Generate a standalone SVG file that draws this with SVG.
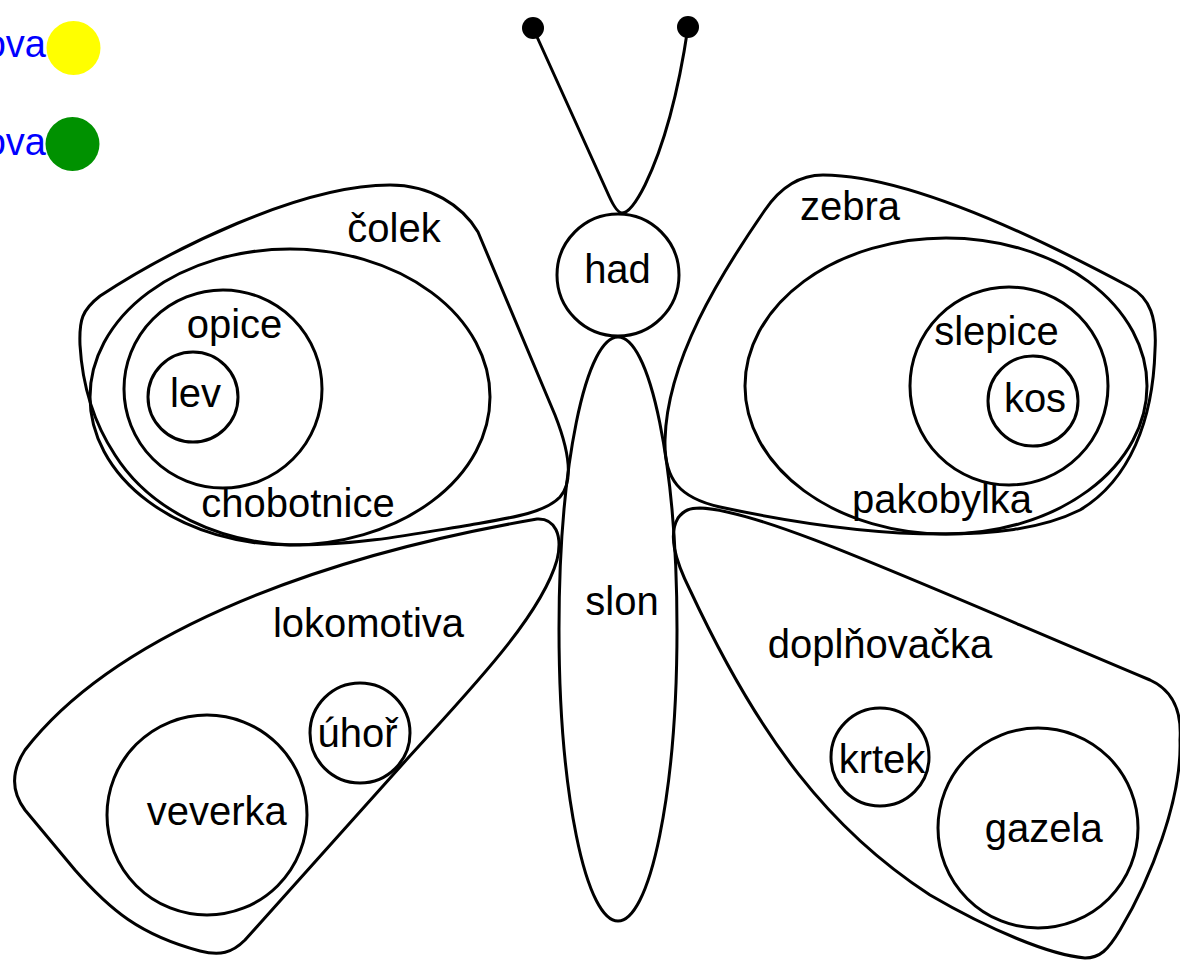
<svg xmlns="http://www.w3.org/2000/svg" width="1180" height="961" viewBox="0 0 1180 961">
<style>
.s{fill:none;stroke:#000;stroke-width:3;stroke-linejoin:round}
.t{font-family:"Liberation Sans",Arial,sans-serif;font-size:40px;fill:#000;text-anchor:middle}
.lg{font-family:"Liberation Sans",Arial,sans-serif;font-size:38px;fill:#0000ff;text-anchor:end}
</style>
<rect width="1180" height="961" fill="#fff"/>
<g id="legend">
<text class="lg" x="46" y="57">ova</text>
<circle cx="73.5" cy="48" r="27" fill="#ffff00"/>
<text class="lg" x="46" y="155">ova</text>
<circle cx="72.5" cy="144" r="27" fill="#009100"/>
</g>
<g id="antennae">
<path class="s" d="M533,28 L609,196 C614,207 618,213 622,213 C628,213 636,203 645,185 C662,150 678,95 688,27"/>
<circle cx="533" cy="28" r="11" fill="#000"/>
<circle cx="688" cy="27" r="11" fill="#000"/>
</g>
<g id="colek">
<path class="s" d="M390,185 C430,185 462,205 478,232 L555,415 C568,448 575,480 560,497 C545,513 510,518 470,525 C420,533 360,545 300,545 C220,545 150,510 115,455 C92,420 82,380 80,345 C79,320 82,310 100,296 C170,250 300,185 390,185 Z"/>
<text class="t" x="394" y="242">čolek</text>
</g>
<g id="chobotnice">
<ellipse class="s" cx="290" cy="397" rx="200" ry="148"/>
<text class="t" x="298" y="517">chobotnice</text>
</g>
<g id="opice">
<circle class="s" cx="223" cy="389" r="99"/>
<text class="t" x="234.5" y="338">opice</text>
</g>
<g id="lev">
<circle class="s" cx="193" cy="397" r="45"/>
<text class="t" x="195.5" y="407">lev</text>
</g>
<g id="zebra">
<path class="s" d="M823,175 C900,175 1020,228 1130,287 C1150,298 1157,318 1155,350 C1153,420 1130,480 1080,510 C1040,530 990,534 940,534 C870,534 790,522 720,507 C680,498 664,480 665,440 C667,360 720,275 765,210 C780,188 800,175 823,175 Z"/>
<text class="t" x="850" y="220">zebra</text>
</g>
<g id="pakobylka">
<ellipse class="s" cx="946" cy="386" rx="201" ry="148"/>
<text class="t" x="942" y="513">pakobylka</text>
</g>
<g id="slepice">
<circle class="s" cx="1009" cy="386" r="99"/>
<text class="t" x="996.5" y="345">slepice</text>
</g>
<g id="kos">
<circle class="s" cx="1033" cy="401" r="45"/>
<text class="t" x="1035" y="412">kos</text>
</g>
<g id="had">
<circle class="s" cx="618" cy="275" r="61"/>
<text class="t" x="617.5" y="283">had</text>
</g>
<g id="slon">
<ellipse class="s" cx="618" cy="629" rx="59" ry="292"/>
<text class="t" x="622" y="615">slon</text>
</g>
<g id="lokomotiva">
<path class="s" d="M537,519 C555,518 563,535 557,560 C540,620 460,700 400,767 L245,940 C232,953 220,956 200,951 C140,935 110,910 75,870 L25,810 C10,790 12,770 25,750 C110,640 300,560 537,519 Z"/>
<text class="t" x="368.5" y="637">lokomotiva</text>
</g>
<g id="uhor">
<circle class="s" cx="360" cy="733" r="50"/>
<text class="t" x="357.5" y="747">úhoř</text>
</g>
<g id="veverka">
<circle class="s" cx="207" cy="815" r="100"/>
<text class="t" x="216.7" y="825">veverka</text>
</g>
<g id="doplnovacka">
<path class="s" d="M700,508 C760,510 900,575 1150,680 C1172,690 1182,710 1180,740 C1182,800 1150,880 1120,930 C1108,950 1100,958 1085,958 C1050,955 990,930 930,895 C830,830 760,740 690,590 C675,560 668,535 678,518 C684,510 690,508 700,508 Z"/>
<text class="t" x="880" y="658">doplňovačka</text>
</g>
<g id="krtek">
<circle class="s" cx="880" cy="757" r="49"/>
<text class="t" x="882" y="773">krtek</text>
</g>
<g id="gazela">
<circle class="s" cx="1038" cy="828" r="100"/>
<text class="t" x="1043.7" y="842">gazela</text>
</g>
</svg>
